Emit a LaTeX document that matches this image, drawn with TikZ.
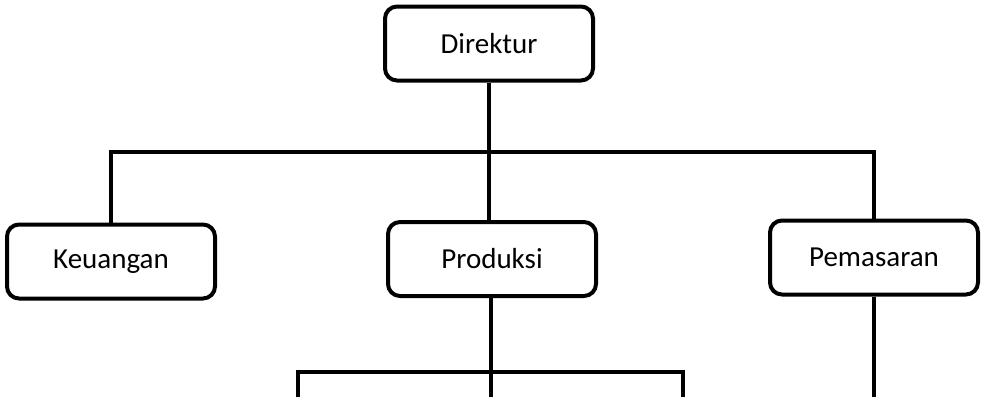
\documentclass[tikz,border=0pt]{standalone}
\usepackage{fontspec}
\setmainfont{Carlito}
\usepackage{tikz}
\usetikzlibrary{positioning, calc}

\tikzset{
  jabatan/.style={draw, line width=2pt, rounded corners=6pt,
    minimum width=104pt, minimum height=37pt, inner sep=0pt,
    font=\fontsize{14.5}{17}\selectfont},
  garis/.style={line width=2pt},
}

\begin{document}
\begin{tikzpicture}[x=0.5pt, y=-0.5pt]
      \useasboundingbox (0,0) rectangle (981,397);
      \clip (0,0) rectangle (981,397);

      % Kotak jabatan
      \node[jabatan] (dir) at (489,43.5) {Direktur};
      \node[jabatan] (keu) at (111,261.5) {Keuangan};
      \node[jabatan] (pro) at (492,259) {Produksi};
      \node[jabatan] (pem) at (874,257.5) {Pemasaran};

      % Garis dari direktur
      \coordinate (bus) at (489,152);
      \draw[garis] (dir.south) -- (bus);
      \draw[garis] (keu.north) |- (bus) -| (pem.north);
      \draw[garis] (bus) -- (bus |- pro.north);

      % Garis ke bawah
      \coordinate (bus2) at (491,372);
      \coordinate (kiri) at (298,397);
      \coordinate (tengah) at (491,397);
      \coordinate (kanan) at (683,397);
      \draw[garis] (pro.south -| bus2) -- (tengah);
      \draw[garis] (kiri) |- (bus2) -| (kanan);
      \draw[garis] (pem.south) -- (pem.south |- kanan);
    \end{tikzpicture}
\end{document}
